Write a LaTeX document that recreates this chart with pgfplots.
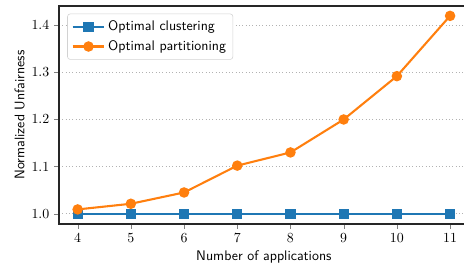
\documentclass[border=0pt]{standalone}
\usepackage{pgfplots}
\pgfplotsset{compat=1.18}
\definecolor{mplblue}{HTML}{1F77B4}
\definecolor{mplorange}{HTML}{FF7F0E}
\begin{document}
\begin{tikzpicture}
\begin{axis}[
  name=ax, at={(0,0)}, anchor=south west,
  scale only axis, width=295pt, height=157pt,
  xmin=3.65, xmax=11.35, ymin=0.978, ymax=1.441,
  xtick={4,5,6,7,8,9,10,11},
  ytick={1.0,1.1,1.2,1.3,1.4},
  yticklabel style={/pgf/number format/.cd,fixed,fixed zerofill,precision=1},
  tick align=outside, tick pos=left,
  major tick length=3.5pt,
  axis line style={black!85, line width=0.8pt},
  ymajorgrids, grid style={gray!60, dotted, line width=0.6pt},
  xlabel={\sffamily Number of applications},
  ylabel={\sffamily Normalized Unfairness},
  xlabel style={yshift=1pt},
  ylabel style={yshift=-2pt},
  legend style={at={(0.02,0.965)}, anchor=north west, draw=gray!35, rounded corners=2pt, font=\sffamily, row sep=1.5pt, inner sep=3pt},
  legend cell align=left,
  legend image code/.code={
    \draw[mark repeat=2,mark phase=2] plot coordinates {(0cm,0cm) (0.4cm,0cm) (0.8cm,0cm)};},
  every axis plot/.append style={line width=1.5pt},
]
\addplot[color=mplblue, mark=square*, mark size=2.9pt] coordinates {
(4,1.0) (5,1.0) (6,1.0) (7,1.0) (8,1.0) (9,1.0) (10,1.0) (11,1.0)};
\addlegendentry{Optimal clustering}
\addplot[color=mplorange, mark=*, mark size=3pt] coordinates {
(4,1.009) (5,1.021) (6,1.045) (7,1.102) (8,1.130) (9,1.200) (10,1.292) (11,1.420)};
\addlegendentry{Optimal partitioning}
\end{axis}
\pgfresetboundingbox
\useasboundingbox (-42.5pt,-27.4pt) rectangle (291.6pt,161.3pt);
\end{tikzpicture}
\end{document}
